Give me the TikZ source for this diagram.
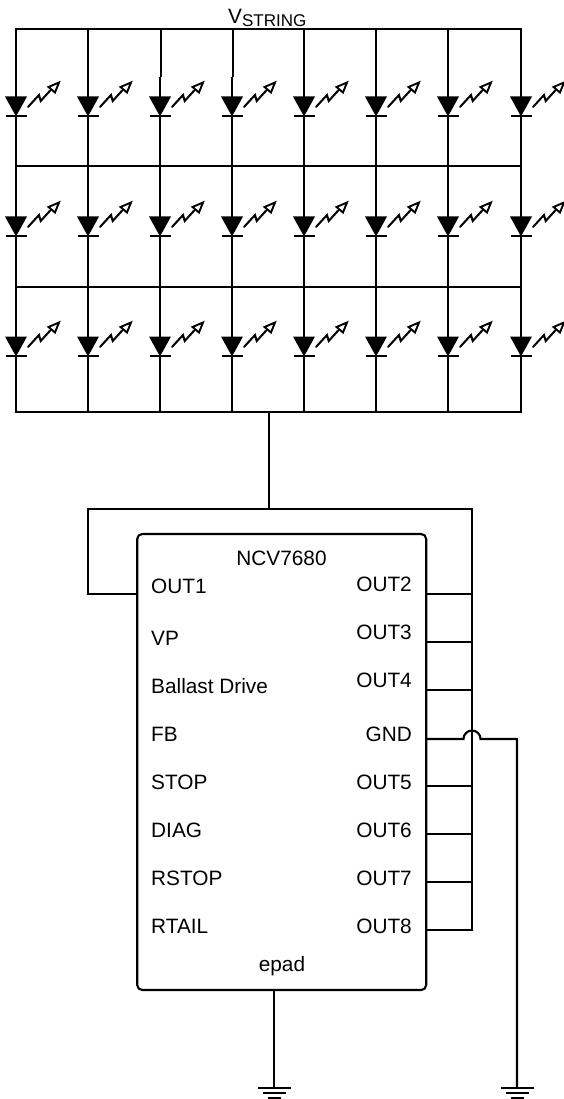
\documentclass[tikz,border=0pt]{standalone}
\usepackage{fontspec}
\setmainfont{Liberation Sans}
\tikzset{
  wire/.style={line width=2.1pt,black,line join=miter},
  lbl/.style={font=\fontsize{20.8}{24}\selectfont,inner sep=0pt,text=black},
  chipbox/.style={draw=black,line width=2.1pt,rounded corners=5pt,minimum width=289pt,minimum height=456pt,inner sep=0pt,fill=white},
}
\newcommand{\ledsym}[2]{%
  \fill[black] (#1-11,#2-0.5) -- (#1+11,#2-0.5) -- (#1,#2+19.5) -- cycle;
  \draw[wire] (#1-10.5,#2+19) -- (#1+10.5,#2+19);
  \draw[line width=2pt,line cap=round] (#1+12,#2+10) -- (#1+23,#2-2) -- (#1+24.7,#2+4) -- (#1+36.5,#2-9);
  \draw[line width=1.9pt,fill=white,line join=miter] (#1+32.5,#2-10) -- (#1+43,#2-14.5) -- (#1+39,#2-4.5) -- cycle;
}
\newcommand{\gnd}[2]{%
  \draw[wire] (#1-16.5,#2) -- (#1+16.5,#2);
  \draw[wire] (#1-11.5,#2+5) -- (#1+11.5,#2+5);
  \draw[wire] (#1-6.5,#2+10) -- (#1+6.5,#2+10);
}
\begin{document}
\begin{tikzpicture}[x=1pt,y=-1pt]
\useasboundingbox (0,0) rectangle (564,1099);
% LED matrix
\foreach \i/\x/\o in {1/16/0,2/88/0,3/160/1,4/232/1,5/304/0,6/376/0,7/448/0,8/521/0}{
  \coordinate (t\i) at (\x+\o,29);
  \coordinate (s\i) at (\x+\o,77);
  \coordinate (m\i) at (\x,77);
  \coordinate (b\i) at (\x,412);
  \draw[wire] (t\i) -- (s\i);
  \draw[wire] (m\i) -- (b\i);
  \foreach \y in {97,217,337}{ \ledsym{\x}{\y} }
}
\draw[wire] (14.95,29) -- (522.05,29);
\coordinate (r1a) at (16,166); \coordinate (r1b) at (521,166);
\coordinate (r2a) at (16,287); \coordinate (r2b) at (521,287);
\draw[wire] (r1a) -- (r1b);
\draw[wire] (r2a) -- (r2b);
\draw[wire] (14.95,412) -- (522.05,412);
\node[lbl,anchor=base west] (vstr) at (228,24) {V\raisebox{-3pt}{\fontsize{17}{20}\selectfont STRING}};
% chip
\node[chipbox] (chip) at (281.7,762) {};
\node[lbl,anchor=base] (title) at (281.5,565) {NCV7680};
\foreach \n/\t/\y in {lo1/OUT1/593,lvp/VP/645,lba/Ballast Drive/693,lfb/FB/741,lst/STOP/789,ldi/DIAG/837,lrs/RSTOP/885,lrt/RTAIL/933}{
  \node[lbl,anchor=base west] (\n) at (151,\y) {\t};
}
\foreach \n/\t/\y in {lo2/OUT2/591,lo3/OUT3/639,lo4/OUT4/687,lgn/GND/741,lo5/OUT5/789,lo6/OUT6/837,lo7/OUT7/885,lo8/OUT8/933}{
  \node[lbl,anchor=base east] (\n) at (412,\y) {\t};
}
\node[lbl,anchor=base] (epad) at (282,971.5) {epad};
% connections
\coordinate (mid) at (269,412);
\coordinate (midb) at (269,509);
\draw[wire] (mid) -- (midb);
\coordinate (busT) at (472,509);
\coordinate (busB) at (472,930);
\coordinate (loopL) at (88,509);
\coordinate (loopD) at (88,594);
\coordinate (p1) at (137,594);
\draw[wire] (p1) -- (loopD) -- (loopL) -- (busT) -- (busB) -- (426,930);
\foreach \y in {594,642,690,786,834,882}{
  \draw[wire] (426,\y) -- (472,\y);
}
% GND with hop
\coordinate (g0) at (426,739);
\coordinate (g1) at (463.5,739);
\coordinate (g3) at (517,739);
\coordinate (g4) at (517,1088);
\draw[wire] (g0) -- (g1) arc[start angle=180,end angle=360,radius=8.5] -- (g3) -- (g4);
% epad ground
\coordinate (e0) at (274,990);
\coordinate (e1) at (274,1088);
\draw[wire] (e0) -- (e1);
\gnd{274.5}{1088}
\gnd{517}{1088}
\end{tikzpicture}
\end{document}
